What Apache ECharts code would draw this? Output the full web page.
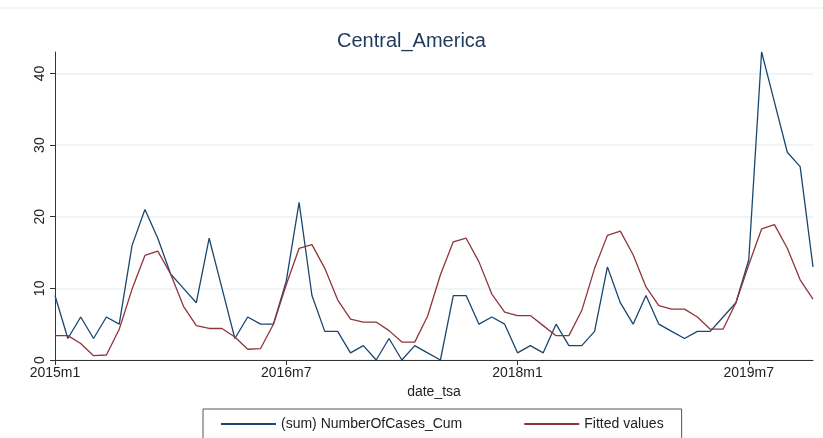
<!DOCTYPE html>
<html>
<head>
<meta charset="utf-8">
<script src="https://cdn.jsdelivr.net/npm/echarts@6/dist/echarts.min.js"></script>
<style>html,body{margin:0;padding:0;background:#fff}#chart{width:823px;height:438px}</style>
</head>
<body>
<div id="chart"></div>
<script>
// months 2015m1 .. 2019m12
var months = [];
for (var y = 2015; y <= 2019; y++) for (var m = 1; m <= 12; m++) months.push(y + 'm' + m);
var tickLabels = ['2015m1', '2016m7', '2018m1', '2019m7'];

var cases = [9, 3, 6, 3, 6, 5, 16, 21, 17, 12, 10, 8, 17, 10, 3, 6, 5, 5, 11, 22,
    9, 4, 4, 1, 2, 0, 3, 0, 2, 1, 0, 9, 9, 5, 6, 5, 1, 2, 1, 5,
    2, 2, 4, 13, 8, 5, 9, 5, 4, 3, 4, 4, 6, 8, 14, 43, 36, 29, 27, 13];
var fitted = [3.4, 3.4, 2.3, 0.6, 0.7, 4.3, 9.9, 14.6, 15.2, 12, 7.5, 4.8, 4.4, 4.4, 3.2, 1.5, 1.6, 5, 10.5, 15.6,
    16.1, 12.8, 8.4, 5.7, 5.3, 5.3, 4.1, 2.5, 2.5, 6.1, 11.9, 16.5, 17, 13.7, 9.2, 6.7, 6.2, 6.2, 4.8, 3.4,
    3.4, 6.9, 12.8, 17.4, 18, 14.7, 10.2, 7.6, 7.1, 7.1, 6, 4.3, 4.3, 8, 13.3, 18.3, 18.9, 15.6, 11.2, 8.5];

var chart = echarts.init(document.getElementById('chart'));
chart.setOption({
    animation: false,
    textStyle: {fontFamily: 'Liberation Sans, Arial, sans-serif'},
    // faint outline of the plot region, like stata draws it
    graphic: [{type: 'line', shape: {x1: 0, y1: 8, x2: 823, y2: 8}, style: {stroke: '#eef2f3', lineWidth: 1.5}, silent: true}],
    title: {
        text: 'Central_America', left: 'center', top: 26,
        textStyle: {fontSize: 20, fontWeight: 'normal', color: '#1e3a5a'}
    },
    legend: {
        bottom: -5, left: 203, itemGap: 62, itemWidth: 55, itemHeight: 2,
        padding: [8, 18, 12, 18],
        borderColor: '#555', borderWidth: 1,
        icon: 'rect',
        textStyle: {fontSize: 14, color: '#222'},
        data: ['(sum) NumberOfCases_Cum', 'Fitted values']
    },
    grid: {left: 55, right: 10, top: 52, bottom: 78},
    xAxis: {
        type: 'category', data: months, boundaryGap: false,
        name: 'date_tsa', nameLocation: 'middle', nameGap: 23,
        nameTextStyle: {fontSize: 14, color: '#222'},
        axisLine: {lineStyle: {color: '#333'}},
        axisTick: {
            length: 5, lineStyle: {color: '#333'},
            interval: function (i, v) { return tickLabels.indexOf(v) >= 0; }
        },
        axisLabel: {
            fontSize: 14, color: '#222', margin: 6,
            interval: function (i, v) { return tickLabels.indexOf(v) >= 0; }
        },
        splitLine: {show: false}
    },
    yAxis: {
        type: 'value', min: 0, max: 43, interval: 10,
        axisLine: {show: true, lineStyle: {color: '#333'}},
        axisTick: {show: true, length: 5, lineStyle: {color: '#333'}},
        axisLabel: {fontSize: 14, color: '#222', rotate: 90, showMaxLabel: false, margin: 8},
        splitLine: {showMaxLine: false, lineStyle: {color: '#eaf2f3', width: 1.5}}
    },
    series: [
        {name: '(sum) NumberOfCases_Cum', type: 'line', data: cases, symbol: 'none',
            color: '#1a476f', lineStyle: {width: 1.3}},
        {name: 'Fitted values', type: 'line', data: fitted, symbol: 'none',
            color: '#90353b', lineStyle: {width: 1.3}}
    ]
});
</script>
</body>
</html>
